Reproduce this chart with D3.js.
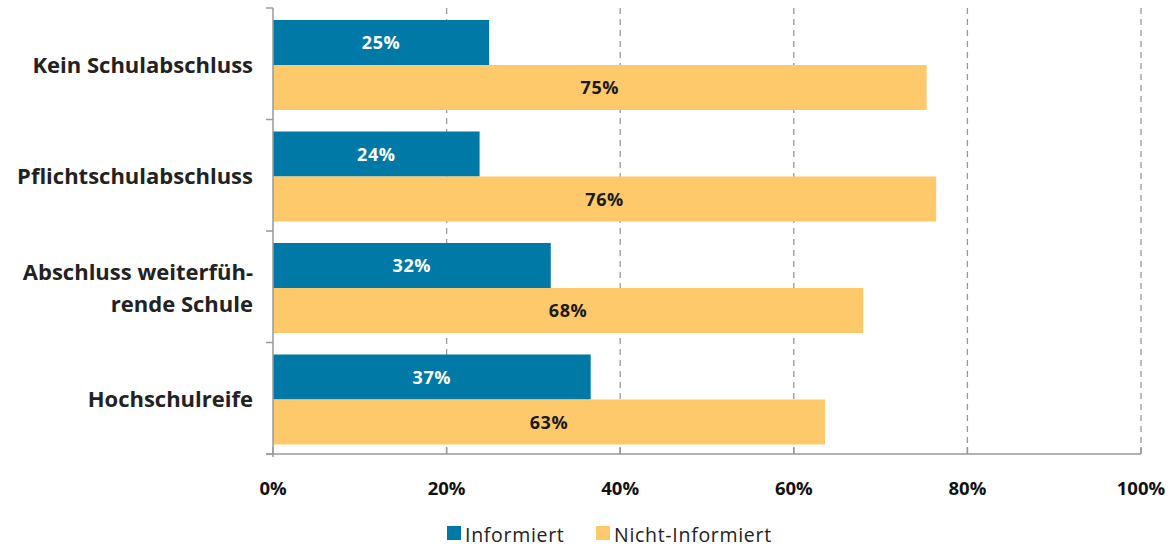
<!DOCTYPE html>
<html><head><meta charset="utf-8">
<script src="https://cdn.jsdelivr.net/npm/d3@7"></script>
<style>body{margin:0;background:#fff}svg{display:block}</style>
</head><body>
<svg id="c" width="1174" height="549"></svg>
<script>
const categories = [["Kein Schulabschluss"],["Pflichtschulabschluss"],["Abschluss weiterfüh-","rende Schule"],["Hochschulreife"]];
const informiert = [24.9, 23.8, 32.0, 36.6];
const nichtInformiert = [75.3, 76.4, 68.0, 63.6];
const informiertLabels = ["25%","24%","32%","37%"];
const nichtLabels = ["75%","76%","68%","63%"];
const xTicks = [0,20,40,60,80,100];
const seriesNames = ["Informiert","Nicht-Informiert"];
const colors = ["#0079A6","#FEC96A"];

(function(){
const svg = d3.select("#c");
const L = 273, R = 1141, T = 8, B = 454;
const font = "'Open Sans', 'DejaVu Sans', sans-serif";
const x = d3.scaleLinear().domain([0,100]).range([L,R]);
const y = d3.scaleBand().domain(d3.range(categories.length)).range([T,B]);
const inner = d3.scaleBand().domain([0,1]).range([12, y.bandwidth()-9.5]);

svg.append("g").selectAll("line").data(xTicks.slice(1)).join("line")
  .attr("x1",d=>x(d)).attr("x2",d=>x(d)).attr("y1",T).attr("y2",B)
  .attr("stroke","#999").attr("stroke-width",1.3).attr("stroke-dasharray","6,5");

const series = [informiert, nichtInformiert];
const labels = [informiertLabels, nichtLabels];
series.forEach((vals,s)=>{
  const g = svg.append("g");
  g.selectAll("rect").data(vals).join("rect")
    .attr("x",x(0)).attr("y",(d,i)=>y(i)+inner(s))
    .attr("width",d=>x(d)-x(0)).attr("height",inner.bandwidth())
    .attr("fill",colors[s]);
  g.selectAll("text").data(vals).join("text")
    .attr("x",d=>(x(0)+x(d))/2).attr("y",(d,i)=>y(i)+inner(s)+inner.bandwidth()/2+6.5)
    .attr("text-anchor","middle").attr("font-family",font).attr("font-weight","bold")
    .attr("font-size",18).attr("letter-spacing","0.6px")
    .attr("fill",s===0?"#fff":"#1a1a1a")
    .text((d,i)=>labels[s][i]);
});

const ya = svg.append("g");
ya.append("line").attr("x1",L).attr("x2",L).attr("y1",T).attr("y2",B).attr("stroke","#999").attr("stroke-width",1.5);
ya.selectAll(".t").data(d3.range(categories.length+1)).join("line")
  .attr("x1",L-7).attr("x2",L).attr("y1",d=>d<categories.length?y(d):B).attr("y2",d=>d<categories.length?y(d):B)
  .attr("stroke","#999").attr("stroke-width",1.5);
ya.selectAll("text").data(categories).join("text")
  .attr("text-anchor","end").attr("font-family",font).attr("font-weight","bold")
  .attr("font-size",22).attr("fill","#222")
  .each(function(lines,i){
    const t = d3.select(this);
    const cy = y(i)+y.bandwidth()/2+1;
    const lh = 32;
    lines.forEach((l,k)=>{
      t.append("tspan").attr("x",253).attr("y",cy+8+(k-(lines.length-1)/2)*lh).text(l);
    });
  });

const xa = svg.append("g");
xa.append("line").attr("x1",L-7).attr("x2",R).attr("y1",B).attr("y2",B).attr("stroke","#999").attr("stroke-width",1.5);
xa.selectAll("line.t").data(xTicks).join("line").attr("class","t")
  .attr("x1",d=>x(d)).attr("x2",d=>x(d)).attr("y1",B-7).attr("y2",d=>d===0?B+3:B).attr("stroke","#999").attr("stroke-width",1.5);
xa.selectAll("text").data(xTicks).join("text")
  .attr("x",d=>x(d)).attr("y",495).attr("text-anchor","middle")
  .attr("font-family",font).attr("font-weight","bold").attr("font-size",18.5).attr("fill","#111")
  .text(d=>d+"%");

const leg = svg.append("g");
const legX = [447, 596];
seriesNames.forEach((n,i)=>{
  leg.append("rect").attr("x",legX[i]).attr("y",526).attr("width",14).attr("height",14).attr("fill",colors[i]);
  leg.append("text").attr("x",legX[i]+18).attr("y",542).attr("font-family",font).attr("font-size",19.5)
    .attr("letter-spacing","0.7px").attr("fill","#222").text(n);
});
})();
</script>
</body></html>
